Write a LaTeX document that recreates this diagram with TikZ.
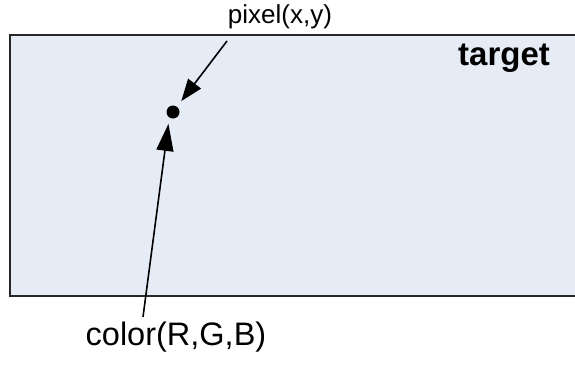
\documentclass[tikz,border=0pt]{standalone}
\usepackage{fontspec}
\setmainfont{Liberation Sans}
\usetikzlibrary{arrows.meta}
\definecolor{targetblue}{RGB}{230,236,246}
\newcommand{\lw}[0] {1.6pt}

\begin{document}
\begin{tikzpicture}[x=1pt,y=-1pt]
        \useasboundingbox (0,0) rectangle (575,364);
        %target rectangle
        \begin{scope}
        \clip (0,0) rectangle (575,364);
        \draw[fill=targetblue, line width=1.1pt, draw=black!85] (10,35) rectangle (590,296);
        \end{scope}
        \node[inner sep=0pt] (target) at (504,58)     {\fontsize{33}{36}\selectfont\textbf{target}};
        %the pixel
        \node[shape=circle,fill=black,inner sep=0pt,minimum size=13pt] (dot) at (173,112)     {};
        %labels
        \node[inner sep=0pt] (pixel) at (280,17)     {\fontsize{26}{28}\selectfont pixel(x,y)};
        \node[inner sep=0pt] (color) at (176,337)     {\fontsize{32.5}{35}\selectfont color(R,G,B)};
        \coordinate (p_start) at (227,41);
        \coordinate (c_start) at (143,317);
        %connections between
        \path[-{Triangle[length=22pt,width=16pt]}, line width=\lw, shorten >=7pt] (p_start) edge (dot);
        \path[-{Triangle[length=27pt,width=17pt]}, line width=\lw, shorten >=12pt] (c_start) edge ([xshift=-3pt]dot.center);
    \end{tikzpicture}
\end{document}
